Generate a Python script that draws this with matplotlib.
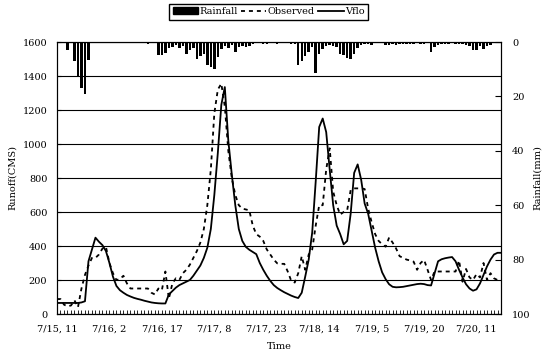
import numpy as np
import matplotlib
matplotlib.use('Agg')
import matplotlib.pyplot as plt
from matplotlib.patches import Patch
from matplotlib.lines import Line2D

plt.rcParams['font.family'] = ['DejaVu Serif']
plt.rcParams['font.size'] = 7

# hourly series, 7/15 11h onwards
vflo = [65, 65, 65, 65, 65, 65, 65, 68, 75, 310,
        380, 449, 425, 405, 370, 300, 220, 165, 140, 125,
        112, 103, 95, 89, 84, 78, 73, 68, 65, 63,
        62, 62, 115, 135, 155, 170, 180, 190, 200, 225,
        255, 285, 330, 390, 500, 700, 947, 1230, 1335, 1020,
        820, 640, 500, 430, 395, 378, 365, 352, 300, 260,
        225, 195, 170, 153, 140, 128, 118, 108, 100, 94,
        125, 220, 320, 480, 780, 1100, 1150, 1070, 850, 640,
        520, 470, 410, 430, 590, 830, 880, 790, 650, 590,
        490, 390, 310, 245, 205, 175, 160, 157, 158, 160,
        164, 168, 172, 176, 178, 176, 170, 168, 240, 310,
        322, 328, 332, 335, 310, 260, 215, 175, 150, 137,
        145, 180, 230, 280, 320, 350, 360, 360]

observed = [88, 88, 55, 45, 50, 80, 40, 150, 230, 285,
            330, 330, 350, 385, 395, 300, 240, 200, 205, 225,
            180, 150, 150, 150, 150, 150, 150, 125, 115, 150,
            140, 250, 90, 180, 210, 200, 240, 260, 290, 330,
            370, 420, 500, 640, 850, 1180, 1320, 1355, 1220, 960,
            800, 700, 640, 620, 615, 610, 520, 470, 455, 430,
            380, 350, 320, 298, 295, 295, 250, 195, 185, 240,
            340, 260, 350, 380, 520, 640, 640, 850, 975, 720,
            640, 585, 600, 610, 729, 739, 739, 739, 735, 620,
            540, 470, 430, 410, 396, 450, 420, 385, 340, 330,
            320, 315, 308, 260, 300, 318, 260, 200, 250, 250,
            250, 250, 250, 250, 250, 315, 190, 265, 215, 200,
            235, 215, 300, 200, 240, 210, 200, 200]

rainfall = [0, 0, 0, 3, 0, 7, 12.4, 16.8, 19, 6.7,
            0.5, 0, 0, 0, 0, 0, 0.4, 0.4, 0, 0,
            0, 0, 0, 0, 0, 0, 0.8, 0, 0, 4.9,
            4.6, 3.9, 2.2, 1.8, 1.0, 2.2, 1.5, 4.3, 3.1, 2.2,
            6.1, 5.0, 4.3, 8.6, 9.2, 9.8, 5.5, 2.5, 1.5, 2.2,
            1.2, 3.7, 1.8, 1.5, 1.8, 1.5, 0.8, 0.5, 0, 0.7,
            0.7, 0.5, 0, 0.6, 0, 0, 0, 0.6, 0.6, 8.5,
            7.0, 5.0, 3.5, 2.0, 11.5, 4.5, 2.5, 1.5, 1.2, 1.5,
            1.8, 4.3, 4.9, 5.9, 6.1, 4.3, 2.2, 1.0, 0.6, 0.6,
            1.0, 0.3, 0, 0, 1.0, 1.0, 0.8, 1.0, 0.8, 0.8,
            0.6, 0.8, 0.6, 0, 0.8, 0.8, 0, 3.5, 2.0, 1.2,
            0.6, 0.6, 0.6, 0, 0.6, 0.6, 0.6, 1.2, 1.5, 3.0,
            3.0, 1.5, 2.5, 1.5, 1.0, 0, 0, 0]

tick_labels = ['7/15, 11', '7/16, 2', '7/16, 17', '7/17, 8', '7/17, 23',
               '7/18, 14', '7/19, 5', '7/19, 20', '7/20, 11']

hours = np.arange(len(vflo))

fig = plt.figure(figsize=(5.45, 3.56), dpi=100)
ax = fig.add_axes([57 / 545, 1 - 314 / 356, (501 - 57) / 545, (314 - 42) / 356])

ax.plot(hours, observed, color='black', lw=1.3, ls=(0, (2.2, 2.2)), zorder=3)
ax.plot(hours, vflo, color='black', lw=1.3, zorder=4)

ax.set_xlim(0, len(vflo) - 1)
ax.set_ylim(0, 1600)
ax.set_yticks(range(0, 1601, 200))
ax.grid(axis='y', color='black', lw=0.8)
ax.set_axisbelow(True)
ax.set_xticks(range(0, len(vflo), 15))
ax.set_xticklabels(tick_labels)
ax.set_xticks(hours, minor=True)
ax.tick_params(axis='x', which='both', direction='in', length=3, width=0.6, pad=8)
ax.tick_params(axis='y', direction='in', length=3, pad=7)
ax.set_xlabel('Time', labelpad=6)
ax.set_ylabel('Runoff(CMS)')
ax.yaxis.set_label_coords(-0.09, 0.5)

ax2 = ax.twinx()
ax2.bar(hours, rainfall, width=0.7, color='black', zorder=2)
ax2.set_ylim(100, 0)
ax2.set_yticks(range(0, 101, 20))
ax2.tick_params(axis='y', direction='in', length=4, pad=8)
ax2.set_ylabel('Rainfall(mm)')
ax2.yaxis.set_label_coords(1.071, 0.5)

handles = [Patch(facecolor='black', edgecolor='black'),
           Line2D([], [], color='black', lw=1.3, ls=(0, (2.2, 2.2))),
           Line2D([], [], color='black', lw=1.3)]
fig.legend(handles, ['Rainfall', 'Observed', 'Vflo'], loc='upper center',
           bbox_to_anchor=(0.493, 0.995), ncol=3, frameon=True, fancybox=False,
           edgecolor='black', handlelength=2.6, handletextpad=0.15,
           columnspacing=0.35, borderpad=0.35, borderaxespad=0.2, framealpha=1)

plt.savefig('out.png', dpi=100)
